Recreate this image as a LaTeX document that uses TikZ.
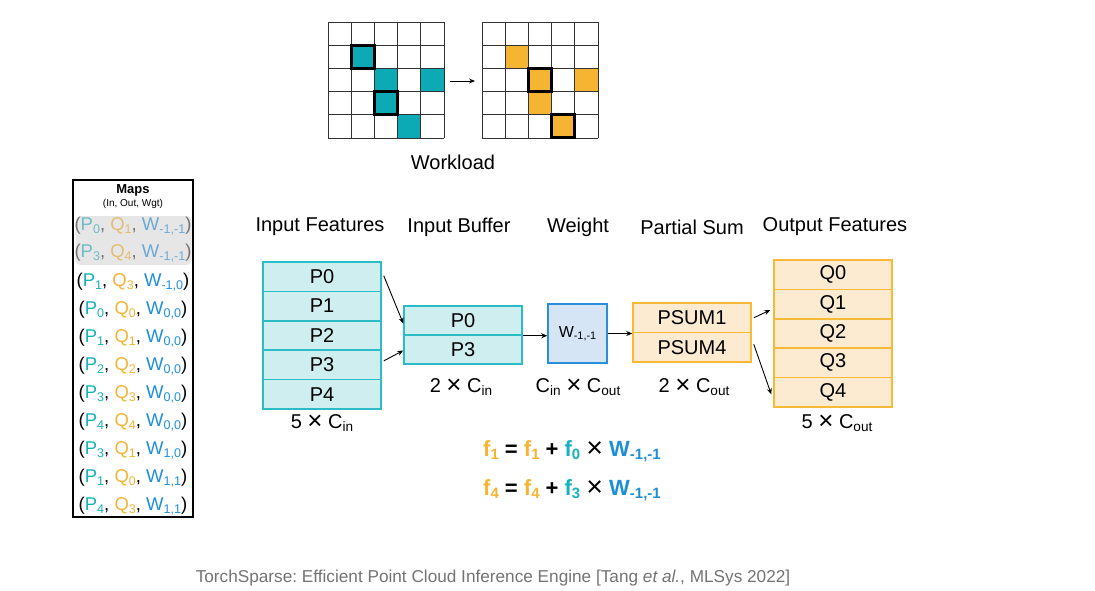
\documentclass[tikz,border=0pt]{standalone}
\usepackage{fontspec}
\setmainfont{Liberation Sans}
\usetikzlibrary{arrows.meta}
\definecolor{cP}{HTML}{17B1BE}
\definecolor{cPcell}{HTML}{0BAAB5}
\definecolor{cPl}{HTML}{CFEEF0}
\definecolor{cPb}{HTML}{2BBCC7}
\definecolor{cQ}{HTML}{F6B433}
\definecolor{cQl}{HTML}{FCEBD1}
\definecolor{cQb}{HTML}{F8B939}
\definecolor{cW}{HTML}{1D8FD8}
\definecolor{cWl}{HTML}{D5E5F6}
\definecolor{cWb}{HTML}{2A8EDC}
\definecolor{fP}{HTML}{6FBCC4}
\definecolor{fQ}{HTML}{E3BD72}
\definecolor{fW}{HTML}{6EA9D6}
\definecolor{hl}{HTML}{E6E6E6}
\newcommand\lo[1]{\raisebox{-0.3ex}{\scalebox{0.68}{#1}}}
\newcommand\tms{\raisebox{-0.12ex}{\scalebox{1.3}{×}}}
\newcommand\setfs[1]{\fontsize{#1}{#1}\selectfont}
\frenchspacing
\begin{document}
\begin{tikzpicture}[x=1pt,y=-1pt,
  lbl/.style={font=\setfs{20}, inner sep=0pt},
  inrow/.style={draw=cPb, fill=cPl, line width=1.5pt, minimum width=118pt, minimum height=29.4pt, inner sep=0pt, font=\setfs{20}},
  outrow/.style={draw=cQb, fill=cQl, line width=1.5pt, minimum width=118pt, minimum height=29.4pt, inner sep=0pt, font=\setfs{20}},
  arr/.style={-{Stealth[length=6pt,width=5pt]}, line width=0.9pt},
  gridc/.style={draw=black!80, line width=0.7pt},
  boldsq/.style={draw=black, line width=3pt},
  maprow/.style={font=\setfs{18.5}, inner sep=0pt}]
\useasboundingbox (0,0) rectangle (1095,591);

% ---- workload grids ----
\foreach \c/\r in {1/1,2/2,4/2,2/3,3/4}
  \fill[cPcell] ({328+\c*23.2},{22+\r*23.2}) rectangle ++(23.2,23.2);
\foreach \c/\r in {1/1,2/2,4/2,2/3,3/4}
  \fill[cQ] ({482+\c*23.2},{22+\r*23.2}) rectangle ++(23.2,23.2);
\foreach \i in {0,...,5} {
  \draw[gridc] ({328+\i*23.2},22) -- ++(0,116);
  \draw[gridc] (328,{22+\i*23.2}) -- ++(116,0);
  \draw[gridc] ({482+\i*23.2},22) -- ++(0,116);
  \draw[gridc] (482,{22+\i*23.2}) -- ++(116,0);
}
\foreach \c/\r in {1/1,2/3}
  \draw[boldsq] ({328+\c*23.2},{22+\r*23.2}) rectangle ++(23.2,23.2);
\foreach \c/\r in {2/2,3/4}
  \draw[boldsq] ({482+\c*23.2},{22+\r*23.2}) rectangle ++(23.2,23.2);
\coordinate (ga) at (450,81);
\coordinate (gb) at (475,81);
\draw[arr] (ga) -- (gb);
\node[lbl] (wl) at (453,162) {Workload};

% ---- maps table ----
\node[draw=black, line width=1.2pt, minimum width=120pt, minimum height=337pt, inner sep=0pt] (maps) at (133,348.5) {};
\fill[hl, rounded corners=5pt] (75.5,216) rectangle (191.5,265);
\node[font=\bfseries\setfs{13}, inner sep=0pt] (mt) at (133,190) {Maps};
\node[font=\setfs{10}, inner sep=0pt] (ms) at (133,204) {(In, Out, Wgt)};
\node[maprow, text=black!55] (m1) at (133,226) {(\textcolor{fP}{P\lo{0}}, \textcolor{fQ}{Q\lo{1}}, \textcolor{fW}{W\lo{-1,-1}})};
\node[maprow, text=black!55] (m2) at (133,253) {(\textcolor{fP}{P\lo{3}}, \textcolor{fQ}{Q\lo{4}}, \textcolor{fW}{W\lo{-1,-1}})};
\foreach \p/\q/\w/\y [count=\k from 3] in {1/3/{-1,0}/282, 0/0/{0,0}/310, 1/1/{0,0}/338, 2/2/{0,0}/366, 3/3/{0,0}/394, 4/4/{0,0}/422, 3/1/{1,0}/450, 1/0/{1,1}/478, 4/3/{1,1}/506}
  \node[maprow] (m\k) at (133,\y) {(\textcolor{cP}{P\lo{\p}}, \textcolor{cQ}{Q\lo{\q}}, \textcolor{cW}{W\lo{\w}})};

% ---- column labels ----
\node[lbl] (l1) at (320,227) {Input Features};
\node[lbl] (l2) at (459,227) {Input Buffer};
\node[lbl] (l3) at (578,227) {Weight};
\node[lbl] (l4) at (692,227) {Partial Sum};
\node[lbl] (l5) at (835,227) {Output Features};

% ---- boxes ----
\foreach \i in {0,...,4}
  \node[inrow] (p\i) at (322,{276.7+\i*29.4}) {P\i};
\node[inrow, minimum height=29pt] (b0) at (463,320.5) {P0};
\node[inrow, minimum height=29pt] (b1) at (463,349.5) {P3};
\node[draw=cWb, fill=cWl, line width=1.5pt, minimum size=59pt, inner sep=0pt, font=\setfs{16}] (w) at (577.5,333.5) {W\lo{-1,-1}};
\node[outrow, minimum height=29.5pt] (s1) at (692,317.75) {PSUM1};
\node[outrow, minimum height=29.5pt] (s4) at (692,347.25) {PSUM4};
\foreach \i in {0,...,4}
  \node[outrow] (q\i) at (833,{274.7+\i*29.4}) {Q\i};

% ---- size labels ----
\node[lbl] (z1) at (322,423) {5 \tms{} C\lo{in}};
\node[lbl] (z2) at (461,387) {2 \tms{} C\lo{in}};
\node[lbl] (z3) at (578,387) {C\lo{in} \tms{} C\lo{out}};
\node[lbl] (z4) at (694,387) {2 \tms{} C\lo{out}};
\node[lbl] (z5) at (837,423) {5 \tms{} C\lo{out}};

% ---- arrows ----
\draw[arr] ([xshift=2pt,yshift=1pt]p0.east) -- ([yshift=-3pt]b0.west);
\draw[arr] ([xshift=2pt,yshift=4pt]p3.east) -- ([yshift=-1pt]b1.west);
\draw[arr] (b0.south east) -- (b0.south east -| w.west);
\draw[arr] (w.east) -- (w.east -| s1.west);
\draw[arr] ([xshift=2pt]s1.east) -- ([xshift=-3pt,yshift=-6pt]q1.west);
\draw[arr] ([xshift=2pt,yshift=3pt]s4.east) -- ([xshift=-2pt,yshift=-2pt]q4.west);

% ---- formulas ----
\node[anchor=west, font=\bfseries\setfs{22}, inner sep=0pt] (f1) at (483,451) {\textcolor{cQ}{f\lo{1}} = \textcolor{cQ}{f\lo{1}} + \textcolor{cP}{f\lo{0}} {\mdseries\tms} \textcolor{cW}{W\lo{-1,-1}}};
\node[anchor=west, font=\bfseries\setfs{22}, inner sep=0pt] (f2) at (483,490) {\textcolor{cQ}{f\lo{4}} = \textcolor{cQ}{f\lo{4}} + \textcolor{cP}{f\lo{3}} {\mdseries\tms} \textcolor{cW}{W\lo{-1,-1}}};

% ---- citation ----
\node[text=black!55, font=\setfs{17.2}, inner sep=0pt] (cite) at (493,578) {TorchSparse: Efficient Point Cloud Inference Engine [Tang \textit{et al.}, MLSys 2022]};
\end{tikzpicture}
\end{document}
